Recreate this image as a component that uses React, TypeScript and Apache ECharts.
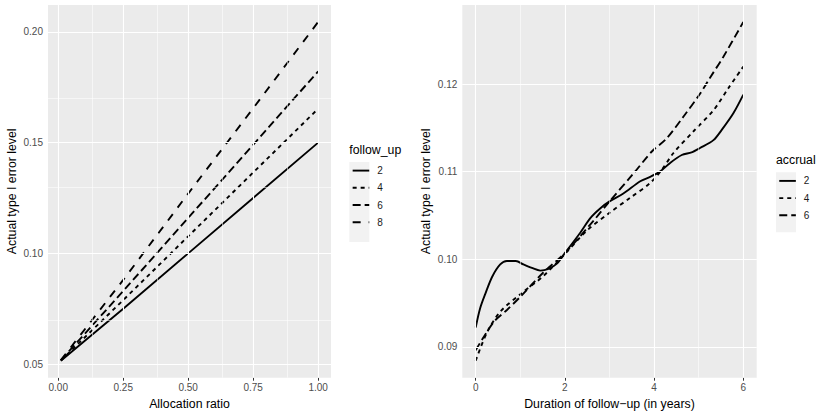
import React, { useEffect, useRef } from "react";
import * as echarts from "echarts";

// ---- Left panel data (Allocation ratio vs actual type I error) ----
const ALLOC_X = [0.01, 0.25, 0.5, 0.75, 1.0];
const FU_2 = [0.0515, 0.075, 0.1, 0.125, 0.15];
const FU_4 = [0.0516, 0.0789, 0.1077, 0.1365, 0.1653];
const FU_6 = [0.0517, 0.083, 0.116, 0.149, 0.1822];
const FU_8 = [0.0518, 0.088, 0.127, 0.1655, 0.2045];

// ---- Right panel data (Duration of follow-up vs actual type I error) ----
const ACC2_X = [0, 0.1, 0.22, 0.37, 0.55, 0.7, 0.9, 1.07, 1.26, 1.45, 1.63, 1.82, 2.0, 2.34, 2.57, 2.79, 3.0, 3.31, 3.69, 3.91, 4.13, 4.36, 4.62, 4.84, 5.03, 5.33, 5.52, 5.78, 6.0];
const ACC2_Y = [0.0922, 0.0944, 0.0961, 0.098, 0.0994, 0.0998, 0.0998, 0.0994, 0.099, 0.0987, 0.0989, 0.0995, 0.1007, 0.103, 0.1047, 0.1058, 0.1066, 0.1075, 0.1089, 0.1094, 0.11, 0.111, 0.1119, 0.1122, 0.1127, 0.1136, 0.1148, 0.1167, 0.1188];
const ACC4_X = [0, 0.25, 0.55, 1.0, 1.5, 2.0, 2.5, 3.0, 3.46, 3.91, 4.17, 4.43, 4.9, 5.33, 5.66, 6.0];
const ACC4_Y = [0.0884, 0.0916, 0.094, 0.096, 0.098, 0.1006, 0.1033, 0.1053, 0.107, 0.1087, 0.1102, 0.1121, 0.1147, 0.117, 0.1195, 0.122];
const ACC6_X = [0, 0.4, 0.7, 1.0, 1.5, 2.0, 2.66, 3.0, 3.54, 3.95, 4.28, 4.66, 5.03, 5.25, 5.55, 6.0];
const ACC6_Y = [0.0896, 0.0928, 0.0942, 0.0957, 0.0984, 0.1007, 0.1045, 0.1066, 0.1098, 0.1123, 0.1138, 0.1163, 0.1189, 0.1207, 0.1231, 0.1271];

// ---- Tick values ----
const LEFT_X_TICKS = [0, 0.25, 0.5, 0.75, 1.0];
const LEFT_X_MINOR = [0.125, 0.375, 0.625, 0.875];
const LEFT_Y_TICKS = [0.05, 0.1, 0.15, 0.2];
const LEFT_Y_MINOR = [0.075, 0.125, 0.175];
const RIGHT_X_TICKS = [0, 2, 4, 6];
const RIGHT_X_MINOR = [1, 3, 5];
const RIGHT_Y_TICKS = [0.09, 0.1, 0.11, 0.12];
const RIGHT_Y_MINOR = [0.095, 0.105, 0.115, 0.125];

const FOLLOW_LEVELS = ["2", "4", "6", "8"];
const ACCRUAL_LEVELS = ["2", "4", "6"];

const FONT = "'Liberation Sans', Arial, Helvetica, sans-serif";
const DASHES: any[] = ["solid", [4, 4], [8, 4], [8, 8]];
const LINE_W = 1.9;
const TICK_FS = 10;
const TITLE_FS = 12.3;

const expandMin = (v: { min: number; max: number }) => v.min - 0.05 * (v.max - v.min);
const expandMax = (v: { min: number; max: number }) => v.max + 0.05 * (v.max - v.min);

function makeAxis(gridIndex: number, ticks: number[], fmt: (v: number) => string, name: string, gap: number) {
  return {
    type: "value",
    gridIndex,
    min: expandMin,
    max: expandMax,
    name,
    nameLocation: "middle",
    nameGap: gap,
    nameTextStyle: { fontSize: TITLE_FS, color: "#000", fontFamily: FONT },
    axisLine: { show: false },
    splitLine: { show: false },
    axisTick: { show: true, customValues: ticks, length: 3, lineStyle: { color: "#333333", width: 1 } },
    axisLabel: {
      customValues: ticks,
      formatter: (v: number) => fmt(v),
      color: "#4D4D4D",
      fontSize: TICK_FS,
      margin: 5,
      fontFamily: FONT,
    },
  };
}

function gridLineSeries(axisIndex: number, xMajor: number[], xMinor: number[], yMajor: number[], yMinor: number[]) {
  const major = { color: "#FFFFFF", width: 1.1, type: "solid" };
  const minor = { color: "#FFFFFF", width: 0.55, type: "solid" };
  return {
    type: "line",
    name: "grid" + axisIndex,
    xAxisIndex: axisIndex,
    yAxisIndex: axisIndex,
    data: [],
    z: 1,
    silent: true,
    markLine: {
      silent: true,
      symbol: ["none", "none"],
      label: { show: false },
      emphasis: { disabled: true },
      animation: false,
      data: [
        ...xMinor.map((v) => ({ xAxis: v, lineStyle: minor })),
        ...yMinor.map((v) => ({ yAxis: v, lineStyle: minor })),
        ...xMajor.map((v) => ({ xAxis: v, lineStyle: major })),
        ...yMajor.map((v) => ({ yAxis: v, lineStyle: major })),
      ],
    },
  };
}

function lineSeries(name: string, axisIndex: number, xs: number[], ys: number[], dash: any, smooth: boolean | number) {
  return {
    type: "line",
    name,
    xAxisIndex: axisIndex,
    yAxisIndex: axisIndex,
    data: xs.map((x, i) => [x, ys[i]]),
    showSymbol: false,
    symbol: "none",
    smooth,
    z: 3,
    lineStyle: { color: "#000000", width: LINE_W, type: dash, cap: "butt" },
    itemStyle: { color: "#000000" },
    emphasis: { disabled: true },
  };
}

export default function App() {
  const ref = useRef<HTMLDivElement>(null);

  useEffect(() => {
    if (!ref.current) return;
    const chart = echarts.init(ref.current, undefined, { renderer: "svg" });

    const leftVals = [FU_2, FU_4, FU_6, FU_8];
    const rightX = [ACC2_X, ACC4_X, ACC6_X];
    const rightY = [ACC2_Y, ACC4_Y, ACC6_Y];

    const series: any[] = [
      gridLineSeries(0, LEFT_X_TICKS, LEFT_X_MINOR, LEFT_Y_TICKS, LEFT_Y_MINOR),
      gridLineSeries(1, RIGHT_X_TICKS, RIGHT_X_MINOR, RIGHT_Y_TICKS, RIGHT_Y_MINOR),
      ...FOLLOW_LEVELS.map((lv, i) => lineSeries("follow_up = " + lv, 0, ALLOC_X, leftVals[i], DASHES[i], false)),
      ...ACCRUAL_LEVELS.map((lv, i) => lineSeries("accrual = " + lv, 1, rightX[i], rightY[i], DASHES[i], 0.3)),
    ];

    const legendItems = (prefix: string, levels: string[]) =>
      levels.map((l, i) => ({
        name: prefix + " = " + l,
        itemStyle: { opacity: 0, color: "transparent", borderWidth: 0 },
        lineStyle: { color: "#000000", width: LINE_W, type: DASHES[i], opacity: 1, cap: "butt" },
      }));

    const legendCommon = {
      orient: "vertical",
      padding: 0,
      itemWidth: 16.6,
      itemHeight: 14,
      itemGap: 6,
      selectedMode: false,
      formatter: (n: string) => n.split(" = ")[1],
      itemStyle: { opacity: 0, color: "transparent", borderWidth: 0 },
      textStyle: { fontSize: TICK_FS, color: "#1A1A1A", fontFamily: FONT, padding: [0, 0, 0, 3] },
    };

    chart.setOption({
      animation: false,
      backgroundColor: "#FFFFFF",
      textStyle: { fontFamily: FONT },
      grid: [
        { left: 48, top: 5, width: 283, bottom: 37.3, show: true, backgroundColor: "#EBEBEB", borderWidth: 0, containLabel: false },
        { left: 462.3, top: 5, width: 294.4, bottom: 37.3, show: true, backgroundColor: "#EBEBEB", borderWidth: 0, containLabel: false },
      ],
      xAxis: [
        makeAxis(0, LEFT_X_TICKS, (v) => v.toFixed(2), "Allocation ratio", 16.5),
        makeAxis(1, RIGHT_X_TICKS, (v) => String(Math.round(v)), "Duration of follow\u2212up (in years)", 16.5),
      ],
      yAxis: [
        makeAxis(0, LEFT_Y_TICKS, (v) => v.toFixed(2), "Actual type I error level", 30),
        makeAxis(1, RIGHT_Y_TICKS, (v) => v.toFixed(2), "Actual type I error level", 30),
      ],
      legend: [
        { ...legendCommon, left: 351.7, top: 165, data: legendItems("follow_up", FOLLOW_LEVELS) },
        { ...legendCommon, left: 778.3, top: 175.3, data: legendItems("accrual", ACCRUAL_LEVELS) },
      ],
      graphic: [
        { type: "rect", left: 349.3, top: 162, shape: { width: 20, height: 80 }, style: { fill: "#F2F2F2" }, z: -1 },
        { type: "rect", left: 776, top: 172.3, shape: { width: 20, height: 60 }, style: { fill: "#F2F2F2" }, z: -1 },
        { type: "text", left: 349.3, top: 143.5, style: { text: "follow_up", fontSize: TITLE_FS, fill: "#000", fontFamily: FONT } },
        { type: "text", left: 776, top: 153.5, style: { text: "accrual", fontSize: TITLE_FS, fill: "#000", fontFamily: FONT } },
      ],
      series,
    });

    return () => chart.dispose();
  }, []);

  return (
    <div
      ref={ref}
      style={{ position: "absolute", left: 0, top: 0, width: 830, height: 415, background: "#fff" }}
    />
  );
}
